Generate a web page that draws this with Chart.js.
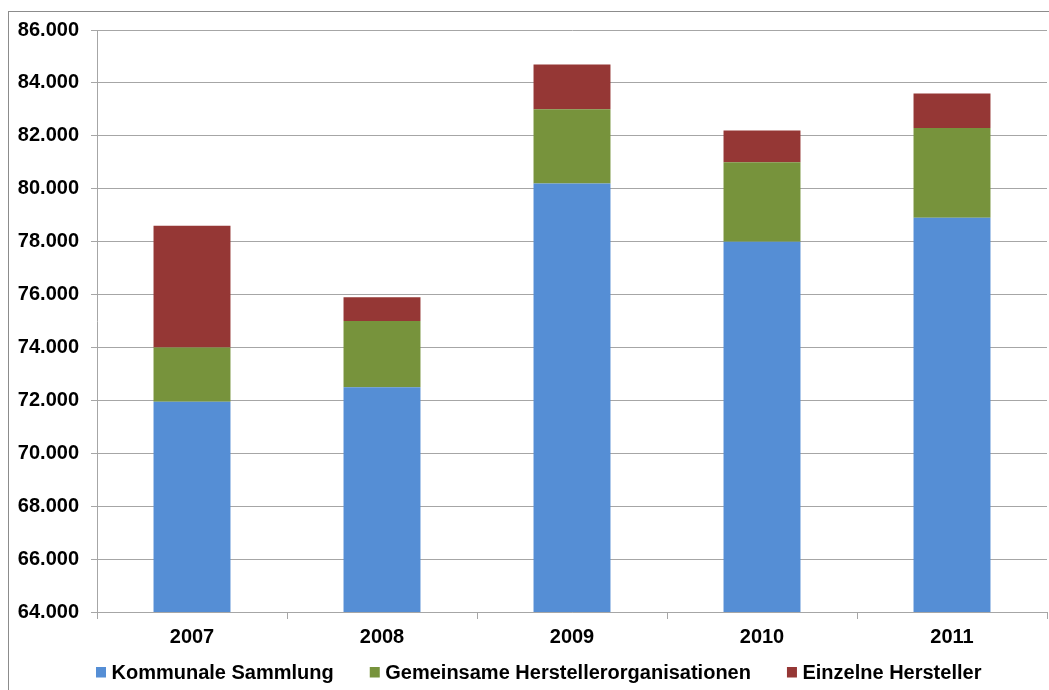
<!DOCTYPE html>
<html>
<head>
<meta charset="utf-8">
<title>Sammelmengen 2007–2011</title>
<script src="https://cdn.jsdelivr.net/npm/chart.js@4/dist/chart.umd.min.js"></script>
<style>
  html, body { margin: 0; padding: 0; background: #ffffff; }
  canvas { display: block; }
</style>
</head>
<body>
<canvas id="chart" width="1049" height="690"></canvas>
<script>
// Jahre
const years = ['2007', '2008', '2009', '2010', '2011'];

// Mengen je Sammelweg (gestapelt)
const kommunaleSammlung = [71950, 72500, 80200, 78000, 78900];
const gemeinsameHerstellerorganisationen = [2050, 2500, 2800, 3000, 3400];
const einzelneHersteller = [4600, 900, 1700, 1200, 1300];

// Achsenbereich
const yMin = 64000;
const yMax = 86000;
const yStep = 2000;

const FONT = '"Liberation Sans", Arial, sans-serif';
const GRID = '#a6a6a6';

function formatDe(v) {
  return String(Math.round(v)).replace(/\B(?=(\d{3})+(?!\d))/g, '.');
}

// Rahmen um das Diagramm
const framePlugin = {
  id: 'frame',
  beforeDraw(chart) {
    const ctx = chart.ctx;
    ctx.save();
    ctx.strokeStyle = '#8c8c8c';
    ctx.lineWidth = 1;
    ctx.strokeRect(8.5, 11.5, 1200, 800);
    ctx.restore();
  }
};

// Legende unter der Achse
const legendPlugin = {
  id: 'bottomLegend',
  afterDraw(chart) {
    const ctx = chart.ctx;
    ctx.save();
    ctx.font = 'bold 20px ' + FONT;
    ctx.textBaseline = 'middle';
    ctx.fillStyle = '#000000';
    let x = 96;
    const y = 672;
    chart.data.datasets.forEach(ds => {
      ctx.fillStyle = ds.backgroundColor;
      ctx.fillRect(x, y - 5, 10, 10.5);
      ctx.fillStyle = '#000000';
      const tx = x + 15.5;
      ctx.fillText(ds.label, tx, y + 1);
      x = tx + ctx.measureText(ds.label).width + 36;
    });
    ctx.restore();
  }
};

new Chart(document.getElementById('chart'), {
  type: 'bar',
  data: {
    labels: years,
    datasets: [
      { label: 'Kommunale Sammlung', data: kommunaleSammlung, backgroundColor: '#558ed5' },
      { label: 'Gemeinsame Herstellerorganisationen', data: gemeinsameHerstellerorganisationen, backgroundColor: '#77933c' },
      { label: 'Einzelne Hersteller', data: einzelneHersteller, backgroundColor: '#953735' }
    ]
  },
  options: {
    responsive: false,
    animation: false,
    devicePixelRatio: 1,
    layout: { padding: { top: 30, right: 2, bottom: 38, left: 0 } },
    datasets: {
      bar: { categoryPercentage: 1.0, barPercentage: 0.405, borderWidth: 0 }
    },
    plugins: {
      legend: { display: false },
      tooltip: { enabled: false },
      title: { display: false }
    },
    scales: {
      x: {
        stacked: true,
        grid: {
          offset: true,
          drawOnChartArea: false,
          color: GRID,
          tickLength: 7
        },
        border: { color: GRID },
        ticks: {
          color: '#000000',
          font: { family: FONT, size: 20, weight: 'bold' },
          padding: 6
        },
        afterFit(scale) { scale.height = 40; }
      },
      y: {
        stacked: true,
        min: yMin,
        max: yMax,
        grid: { color: GRID, tickLength: 6 },
        border: { color: GRID },
        ticks: {
          stepSize: yStep,
          color: '#000000',
          font: { family: FONT, size: 20, weight: 'bold' },
          padding: 12,
          callback: v => formatDe(v)
        },
        afterFit(scale) { scale.width = 97; }
      }
    }
  },
  plugins: [framePlugin, legendPlugin]
});
</script>
</body>
</html>
